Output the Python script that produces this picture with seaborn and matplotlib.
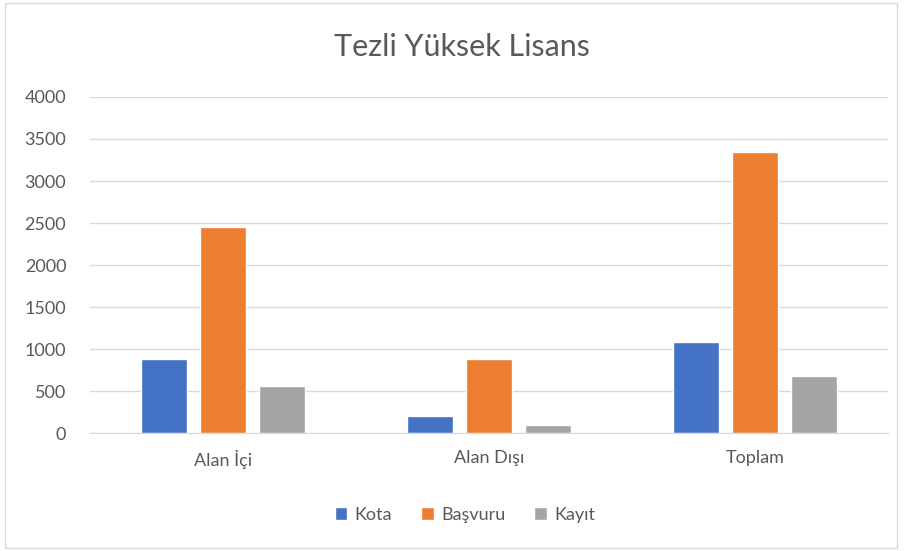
import matplotlib.pyplot as plt
import seaborn as sns
import pandas as pd
from matplotlib.patches import Rectangle

# Data
categories = ['Alan İçi', 'Alan Dışı', 'Toplam']
series_names = ['Kota', 'Başvuru', 'Kayıt']
kota = [883, 203, 1086]
basvuru = [2458, 876, 3349]
kayit = [556, 100, 676]
colors = ['#4472C4', '#ED7D31', '#A5A5A5']

df = pd.DataFrame({
    'kategori': categories * 3,
    'seri': [s for s in series_names for _ in categories],
    'deger': kota + basvuru + kayit,
})

sns.set_style('white')
plt.rcParams['font.family'] = ['Lato', 'DejaVu Sans']
text_color = '#595959'

fig = plt.figure(figsize=(9.08, 5.51), dpi=100)
ax = fig.add_axes([0.099, 0.214, 0.879, 0.61])

sns.barplot(data=df, x='kategori', y='deger', hue='seri', order=categories,
            hue_order=series_names, palette=colors, width=0.665, gap=0.21,
            saturation=1, ax=ax, legend=True)

ax.set_ylim(0, 4000)
ax.set_yticks(range(0, 4001, 500))
ax.yaxis.grid(True, color='#D9D9D9', linewidth=1)
ax.set_axisbelow(True)
for side in ['top', 'right', 'left']:
    ax.spines[side].set_visible(False)
ax.spines['bottom'].set_color('#D9D9D9')
ax.tick_params(axis='both', length=0, colors=text_color, labelsize=13)
ax.tick_params(axis='x', pad=12)
ax.tick_params(axis='y', pad=17)
ax.set_xlabel('')
ax.set_ylabel('')

fig.text(0.509, 0.915, 'Tezli Yüksek Lisans', fontsize=22, color=text_color,
         ha='center', va='center')

handles, labels = ax.get_legend_handles_labels()
ax.legend(handles, labels, loc='center', bbox_to_anchor=(0.512, 0.066),
          bbox_transform=fig.transFigure, ncol=3, frameon=False,
          fontsize=13, labelcolor=text_color, handlelength=0.7,
          handleheight=0.7, handletextpad=0.4, columnspacing=1.6)

fig.patches.append(Rectangle((0.006, 0.006), 0.982, 0.989, transform=fig.transFigure,
                             fill=False, edgecolor='#D9D9D9', linewidth=1))

fig.savefig('out.png', dpi=100)
